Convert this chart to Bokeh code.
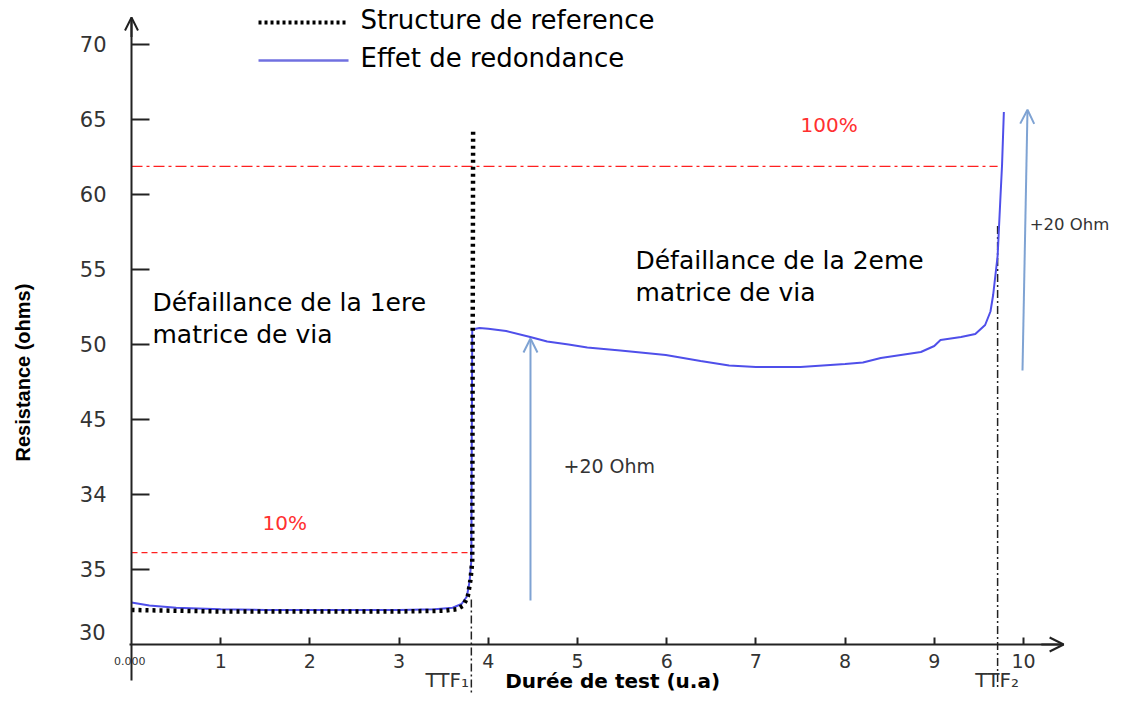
from bokeh.plotting import figure
from bokeh.models import FixedTicker, Arrow, OpenHead, Range1d
from bokeh.core.properties import value
from bokeh.embed import file_html
from bokeh.resources import INLINE

# ---------------- data ----------------
ref_x = [0, 0.5, 1.0, 2.0, 3.0, 3.5, 3.65, 3.72, 3.77, 3.80, 3.82, 3.83]
ref_y = [32.3, 32.25, 32.2, 32.2, 32.2, 32.25, 32.35, 32.6, 33.2, 34.3, 35.5, 64.4]

red_x = [0, 0.2, 0.5, 1.0, 1.5, 2.0, 2.5, 3.0, 3.4, 3.6, 3.7, 3.76, 3.79, 3.81,
         3.82, 3.9, 4.0, 4.2, 4.47, 4.66, 4.9, 5.11, 5.48, 5.99, 6.38, 6.7, 7.0,
         7.5, 8.0, 8.2, 8.4, 8.85, 9.0, 9.07, 9.3, 9.46, 9.57, 9.63, 9.66, 9.71,
         9.74, 9.76, 9.78]
red_y = [32.8, 32.6, 32.45, 32.35, 32.3, 32.3, 32.3, 32.3, 32.35, 32.45, 32.7,
         33.2, 34.2, 35.6, 51.0, 51.1, 51.05, 50.9, 50.5, 50.2, 50.0, 49.8, 49.6,
         49.3, 48.9, 48.6, 48.5, 48.5, 48.7, 48.8, 49.1, 49.5, 49.9, 50.3, 50.5,
         50.7, 51.3, 52.2, 53.3, 55.9, 59.6, 62.0, 65.5]

ttf1 = 3.81
ttf2 = 9.71
thr10 = 36.13
thr100 = 61.87

x_ticks = [1, 2, 3, 4, 5, 6, 7, 8, 9, 10]
y_ticks = [35, 40, 45, 50, 55, 60, 65, 70]
y_tick_labels = ["35", "34", "45", "50", "55", "60", "65", "70"]

legend_labels = ["Structure de reference", "Effet de redondance"]
note_lines = ["Défaillance de la 1ere", "matrice de via",
              "Défaillance de la 2eme", "matrice de via"]

# ---------------- figure ----------------
p = figure(width=1112, height=695,
           x_range=Range1d(-1.4686, 10.998), y_range=Range1d(26.6, 72.933),
           output_backend="svg", toolbar_location=None, min_border=0)
p.grid.visible = False
p.outline_line_color = None
p.background_fill_color = "white"

axis_col = "#222222"
xa = p.xaxis[0]
xa.fixed_location = 30
xa.bounds = (-0.02, 10.45)
xa.ticker = FixedTicker(ticks=x_ticks)
xa.major_tick_in = 7
xa.major_tick_out = 0
xa.minor_tick_line_color = None
xa.axis_line_width = 2
xa.major_tick_line_width = 2
xa.axis_line_color = axis_col
xa.major_tick_line_color = axis_col
xa.major_label_standoff = 10
xa.major_label_text_font = "DejaVu Sans"
xa.major_label_text_font_size = "19px"
xa.major_label_text_color = "#333333"

ya = p.yaxis[0]
ya.fixed_location = 0
ya.bounds = (27.6, 71.8)
ya.ticker = FixedTicker(ticks=y_ticks)
ya.major_label_overrides = {t: s for t, s in zip(y_ticks, y_tick_labels)}
ya.major_tick_in = 18
ya.major_tick_out = 0
ya.minor_tick_line_color = None
ya.axis_line_width = 2
ya.major_tick_line_width = 2
ya.axis_line_color = axis_col
ya.major_tick_line_color = axis_col
ya.major_label_standoff = 25
ya.major_label_text_font = "DejaVu Sans"
ya.major_label_text_font_size = "21px"
ya.major_label_text_color = "#333333"

# axis arrow heads
p.add_layout(Arrow(end=OpenHead(size=14, line_color=axis_col, line_width=2),
                   x_start=10.2, y_start=30, x_end=10.45, y_end=30,
                   line_color=axis_col, line_width=2))
p.add_layout(Arrow(end=OpenHead(size=13, line_color=axis_col, line_width=2),
                   x_start=0, y_start=70.5, x_end=0, y_end=71.8,
                   line_color=axis_col, line_width=2))

# threshold lines
p.line([0, ttf1], [thr10, thr10], line_color="#ff2020", line_width=1.3,
       line_dash="6 4")
p.line([0, ttf2], [thr100, thr100], line_color="#ff2020", line_width=1.3,
       line_dash="11 4 3 4")

# TTF markers
p.line([ttf1, ttf1], [33.0, 26.0], line_color="#222222", line_width=1.5,
       line_dash="8 3 2 3")
p.line([ttf2, ttf2], [57.9, 27.0], line_color="#222222", line_width=1.5,
       line_dash="8 3 2 3")

# curves
p.line(red_x, red_y, line_color="#4f4fea", line_width=2)
p.line(ref_x, ref_y, line_color="black", line_width=4.5, line_dash="3 4")

# +20 Ohm arrows
arrow_col = "#7fa3d3"
p.add_layout(Arrow(end=OpenHead(size=14, line_color=arrow_col, line_width=2),
                   x_start=4.473, y_start=32.93, x_end=4.473, y_end=50.4,
                   line_color=arrow_col, line_width=2))
p.add_layout(Arrow(end=OpenHead(size=14, line_color=arrow_col, line_width=2),
                   x_start=9.989, y_start=48.27, x_end=10.045, y_end=65.65,
                   line_color=arrow_col, line_width=2))

# legend (manual)
p.line([1.424, 2.433], [71.47, 71.47], line_color="black", line_width=4,
       line_dash="3 3")
p.line([1.424, 2.433], [68.93, 68.93], line_color="#7070e0", line_width=2.5)
p.text(x=[2.567, 2.567], y=[71.6, 69.07], text=legend_labels,
       text_font=value("DejaVu Sans"), text_font_size="26px",
       text_baseline="middle", text_align="left", text_color="black")

# annotations
p.text(x=[0.235, 0.235, 5.65, 5.65], y=[52.8, 50.67, 55.6, 53.47], text=note_lines,
       text_font=value("DejaVu Sans"), text_font_size="25px",
       text_baseline="middle", text_align="left", text_color="black")
p.text(x=[4.843], y=[41.87], text=["+20 Ohm"],
       text_font=value("DejaVu Sans"), text_font_size="19px",
       text_baseline="middle", text_align="left", text_color="#333333")
p.text(x=[10.07], y=[58.0], text=["+20 Ohm"],
       text_font=value("DejaVu Sans"), text_font_size="16.5px",
       text_baseline="middle", text_align="left", text_color="#333333")
p.text(x=[1.469, 7.5], y=[38.13, 64.6], text=["10%", "100%"],
       text_font=value("DejaVu Sans"), text_font_size="20px",
       text_baseline="middle", text_align="left", text_color="#ff3030")
p.text(x=[3.296, 9.46], y=[27.62, 27.62], text=["TTF₁", "TTF₂"],
       text_font=value("DejaVu Sans"), text_font_size="20px",
       text_baseline="middle", text_align="left", text_color="#333333")
p.text(x=[-0.02], y=[28.93], text=["0.000"],
       text_font=value("DejaVu Sans"), text_font_size="11px",
       text_baseline="middle", text_align="center", text_color="#333333")
p.text(x=[-0.29], y=[30.8], text=["30"],
       text_font=value("DejaVu Sans"), text_font_size="21px",
       text_baseline="middle", text_align="right", text_color="#333333")

# axis titles
p.text(x=[4.19], y=[27.55], text=["Durée de test (u.a)"],
       text_font=value("DejaVu Sans"), text_font_size="20px", text_font_style="bold",
       text_baseline="middle", text_align="left", text_color="black")
p.text(x=[-1.211], y=[48.13], text=["Resistance (ohms)"], angle=1.5708,
       text_font=value("Liberation Sans"), text_font_size="20px", text_font_style="bold",
       text_baseline="middle", text_align="center", text_color="black")

open("out.html", "w").write(file_html(p, INLINE))
